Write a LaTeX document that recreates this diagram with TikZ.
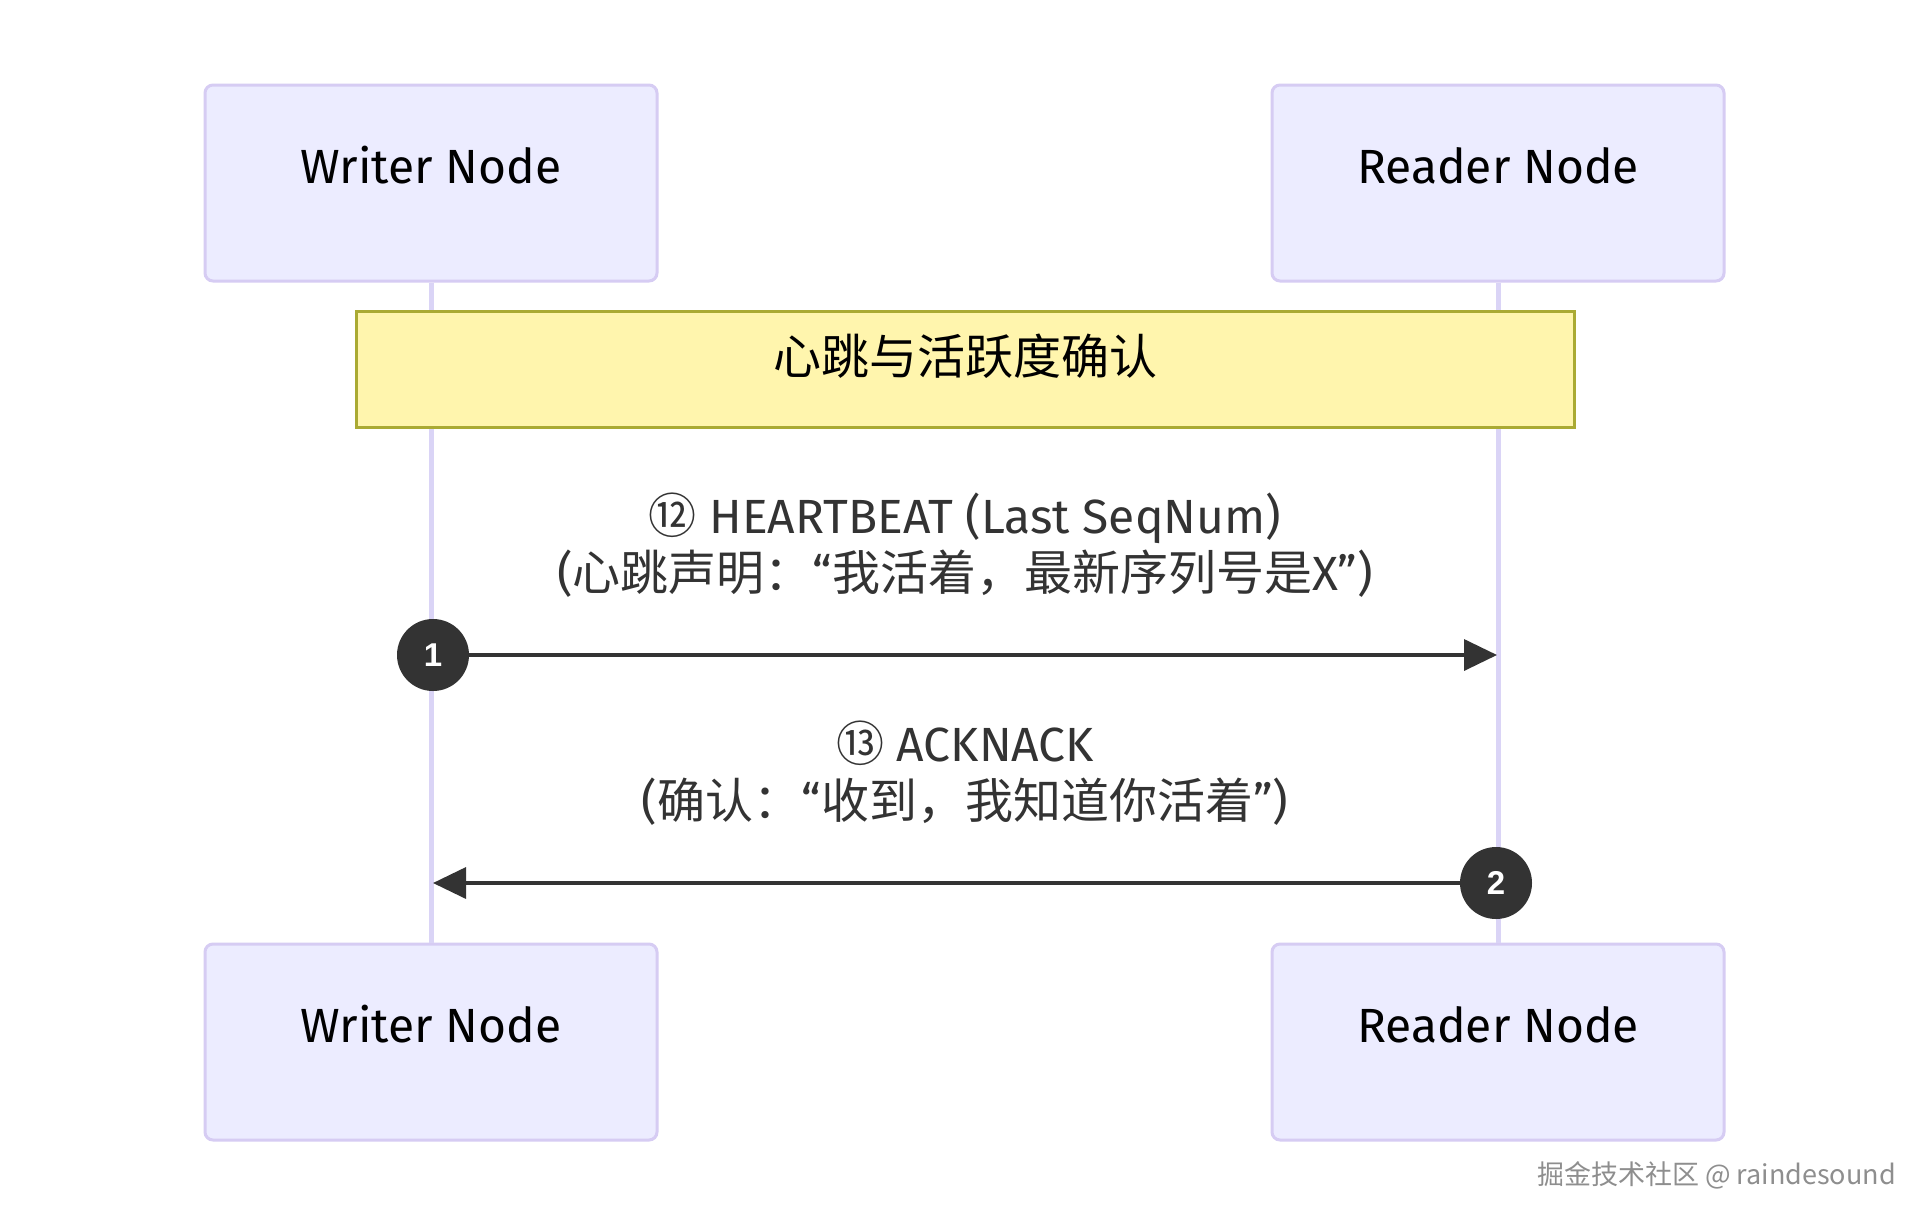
\documentclass[tikz,border=0pt]{standalone}
\usepackage{fontspec}
\setmainfont{Fira Sans}
\newfontfamily\cjk{Noto Sans CJK SC}
\newfontfamily\numf{Liberation Sans}
\usetikzlibrary{arrows.meta}
\newcommand{\C}[1]{{\cjk #1}}
\definecolor{actorfill}{HTML}{ECECFF}
\definecolor{actorline}{HTML}{D6CCF3}
\definecolor{lifecol}{HTML}{DAD4F6}
\definecolor{notefill}{HTML}{FFF5AD}
\definecolor{noteline}{HTML}{AAAA33}
\definecolor{msgcol}{HTML}{333333}
\definecolor{wmcol}{HTML}{8E8E8E}
\tikzset{
  actorbox/.style={draw=actorline, fill=actorfill, line width=3pt, rounded corners=8pt,
    minimum width=452pt, minimum height=196pt, inner sep=0pt},
  actortext/.style={anchor=base, inner sep=0pt, text=black, font=\fontsize{48}{56}\selectfont},
  lifeline/.style={draw=lifecol, line width=5pt},
  notebox/.style={draw=noteline, fill=notefill, line width=3pt,
    minimum width=1218pt, minimum height=116pt, inner sep=0pt},
  notetext/.style={anchor=base, inner sep=0pt, text=black, font=\fontsize{48}{56}\selectfont\cjk},
  msgtext/.style={anchor=base, inner sep=0pt, text=msgcol, font=\fontsize{48}{56}\selectfont},
  msg/.style={draw=msgcol, line width=3.5pt, -{Triangle[length=33pt,width=31pt]}},
  seqnum/.style={circle, fill=msgcol, minimum size=72pt, inner sep=0pt, text=white,
    font=\fontsize{33}{36}\selectfont\numf\bfseries},
  wmtext/.style={anchor=mid east, inner sep=0pt, text=wmcol, font=\fontsize{27}{30}\selectfont\cjk},
}
\begin{document}
\begin{tikzpicture}[x=1pt,y=-1pt]
\useasboundingbox (0,0) rectangle (1929,1227);
\fill[white] (0,0) rectangle (1929,1227);
% actors
\node[actorbox] (wt) at (431,183) {};
\node[actorbox] (rt) at (1498,183) {};
\node[actorbox] (wb) at (431,1042) {};
\node[actorbox] (rb) at (1498,1042) {};
% lifelines
\draw[lifeline] (wt.south) -- (wb.north);
\draw[lifeline] (rt.south) -- (rb.north);
% actor labels
\node[actortext] (wtt) at (431,183) {Writer Node};
\node[actortext] (rtt) at (1498,183) {Reader Node};
\node[actortext] (wbt) at (431,1042) {Writer Node};
\node[actortext] (rbt) at (1498,1042) {Reader Node};
% note
\node[notebox] (note) at (965,369) {};
\node[notetext] (notet) at (965,374) {心跳与活跃度确认};
% message 1
\node[msgtext] (m1a) at (965,533) {\C{⑫} HEARTBEAT (Last SeqNum)};
\node[msgtext] (m1b) at (965,590) {(\C{心跳声明：}“\C{我活着，最新序列号是}X”)};
\coordinate (tip1) at (1497,655);
\node[seqnum] (s1) at (433,655) {1};
\draw[msg] (s1) -- (tip1);
% message 2
\node[msgtext] (m2a) at (965,761) {\C{⑬} ACKNACK};
\node[msgtext] (m2b) at (965,818) {(\C{确认：}“\C{收到，我知道你活着}”)};
\coordinate (tip2) at (433,883);
\node[seqnum] (s2) at (1496,883) {2};
\draw[msg] (s2) -- (tip2);
% watermark
\node[wmtext] (wm) at (1896,1182) {掘金技术社区 @ raindesound};
\end{tikzpicture}
\end{document}
